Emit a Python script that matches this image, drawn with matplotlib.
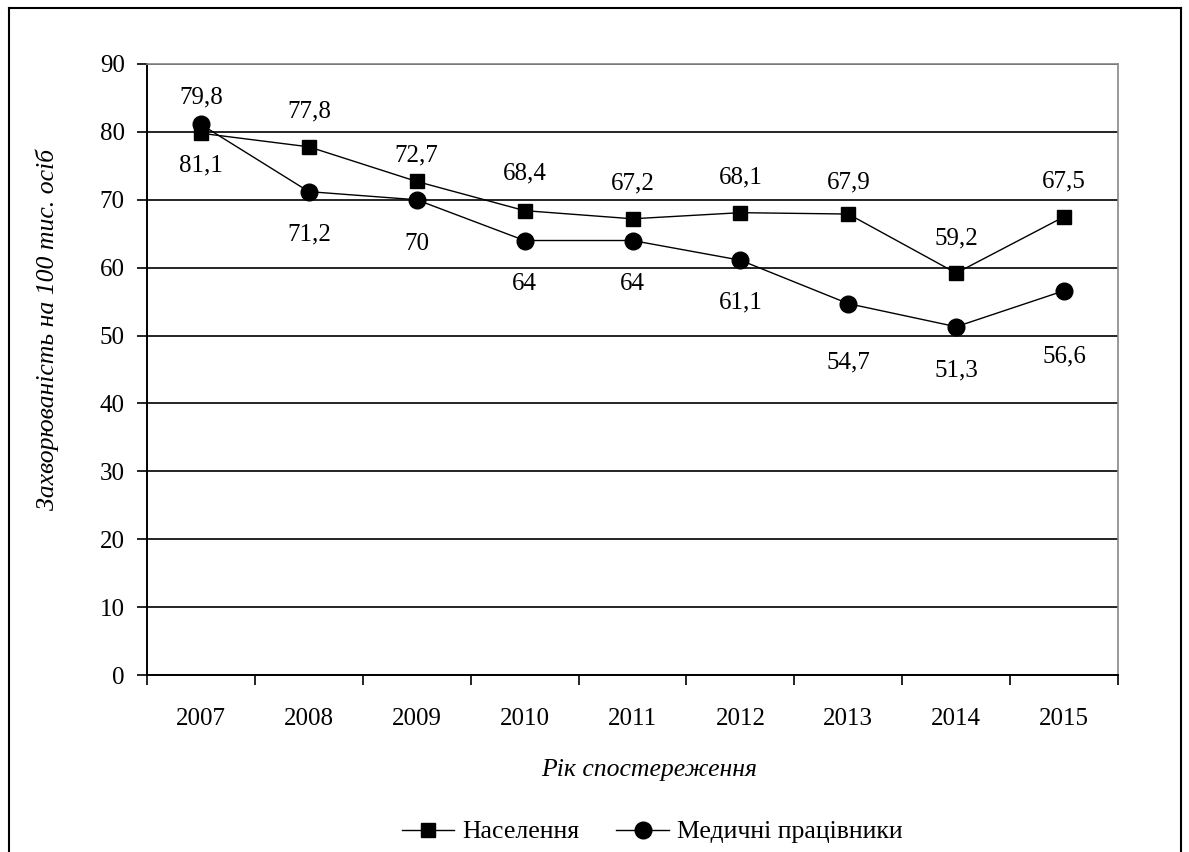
import numpy as np
import matplotlib.pyplot as plt
from matplotlib.lines import Line2D

plt.rcParams['font.family'] = ['Liberation Serif', 'DejaVu Serif']

# data
years = ['2007', '2008', '2009', '2010', '2011', '2012', '2013', '2014', '2015']
population = [79.8, 77.8, 72.7, 68.4, 67.2, 68.1, 67.9, 59.2, 67.5]
medics = [81.1, 71.2, 70, 64, 64, 61.1, 54.7, 51.3, 56.6]
pop_name = 'Населення'
med_name = 'Медичні працівники'

# label offsets in pixels (the labels were hand-placed in the original)
pop_dy = [36, 35, 26, 37, 35, 35, 32, 35, 35]
med_dy = [-41, -43, -44, -43, -43, -42, -59, -44, -66]

W, H = 1189, 852
fig = plt.figure(figsize=(W / 100, H / 100), dpi=100)
ax = fig.add_axes([147 / W, 1 - 675 / H, (1118 - 147) / W, (675 - 64) / H])

x = np.arange(len(years))
ax.plot(x, population, color='black', lw=1.0, marker='s', ms=9.5, label=pop_name, zorder=3)
ax.plot(x, medics, color='black', lw=1.0, marker='o', ms=12, label=med_name, zorder=3)

#value labels with comma as decimal sign
def fmt(v):
    return ('%g' % v).replace('.', ',')

for i in range(len(years)):
    ax.annotate(fmt(population[i]), (x[i], population[i]), xytext=(0, pop_dy[i]),
                textcoords='offset pixels', ha='center', va='center', fontsize=18)
    ax.annotate(fmt(medics[i]), (x[i], medics[i]), xytext=(0, med_dy[i]),
                textcoords='offset pixels', ha='center', va='center', fontsize=18)

ax.set_xlim(-0.5, len(years) - 0.5)
ax.set_ylim(0, 90)
ax.set_yticks(range(0, 91, 10))
ax.tick_params(axis='y', labelsize=18, length=7, width=1.2, direction='out', pad=9)
ax.set_xticks(x)
ax.set_xticklabels(years, fontsize=18)
ax.tick_params(axis='x', length=0, pad=24)
ax.set_xticks(np.arange(-0.5, len(years), 1), minor=True)
ax.tick_params(axis='x', which='minor', length=7, width=1.2, direction='out')
ax.grid(True, axis='y', color='black', lw=1.2)
ax.set_axisbelow(True)

for s in ['left', 'bottom']:
    ax.spines[s].set_linewidth(1.4)
    ax.spines[s].set_color('black')
for s in ['top', 'right']:
    ax.spines[s].set_color('#888888')
    ax.spines[s].set_linewidth(1.2)

ax.set_xlabel('Рік спостереження', fontsize=18.5, style='italic', va='center')
ax.xaxis.set_label_coords((649 - 147) / 971, (675 - 770) / 611)
ax.set_ylabel('Захворюваність на 100 тис. осіб', fontsize=18.5, style='italic', va='center')
ax.yaxis.set_label_coords((47 - 147) / 971, (675 - 329) / 611)

fig.legend(loc='center', bbox_to_anchor=(652 / W, 1 - 832 / H), ncol=2, frameon=False,
           fontsize=18.5, handlelength=2.05, columnspacing=1.45, handletextpad=0.3,
           borderaxespad=0, borderpad=0)

# outer frame
for xs, ys in [([9 / W, 9 / W], [0, 1 - 8 / H]), ([9 / W, 1181 / W], [1 - 8 / H, 1 - 8 / H]),
               ([1181 / W, 1181 / W], [0, 1 - 8 / H])]:
    fig.add_artist(Line2D(xs, ys, color='black', lw=1.5, transform=fig.transFigure))

fig.savefig('out.png', dpi=100)
